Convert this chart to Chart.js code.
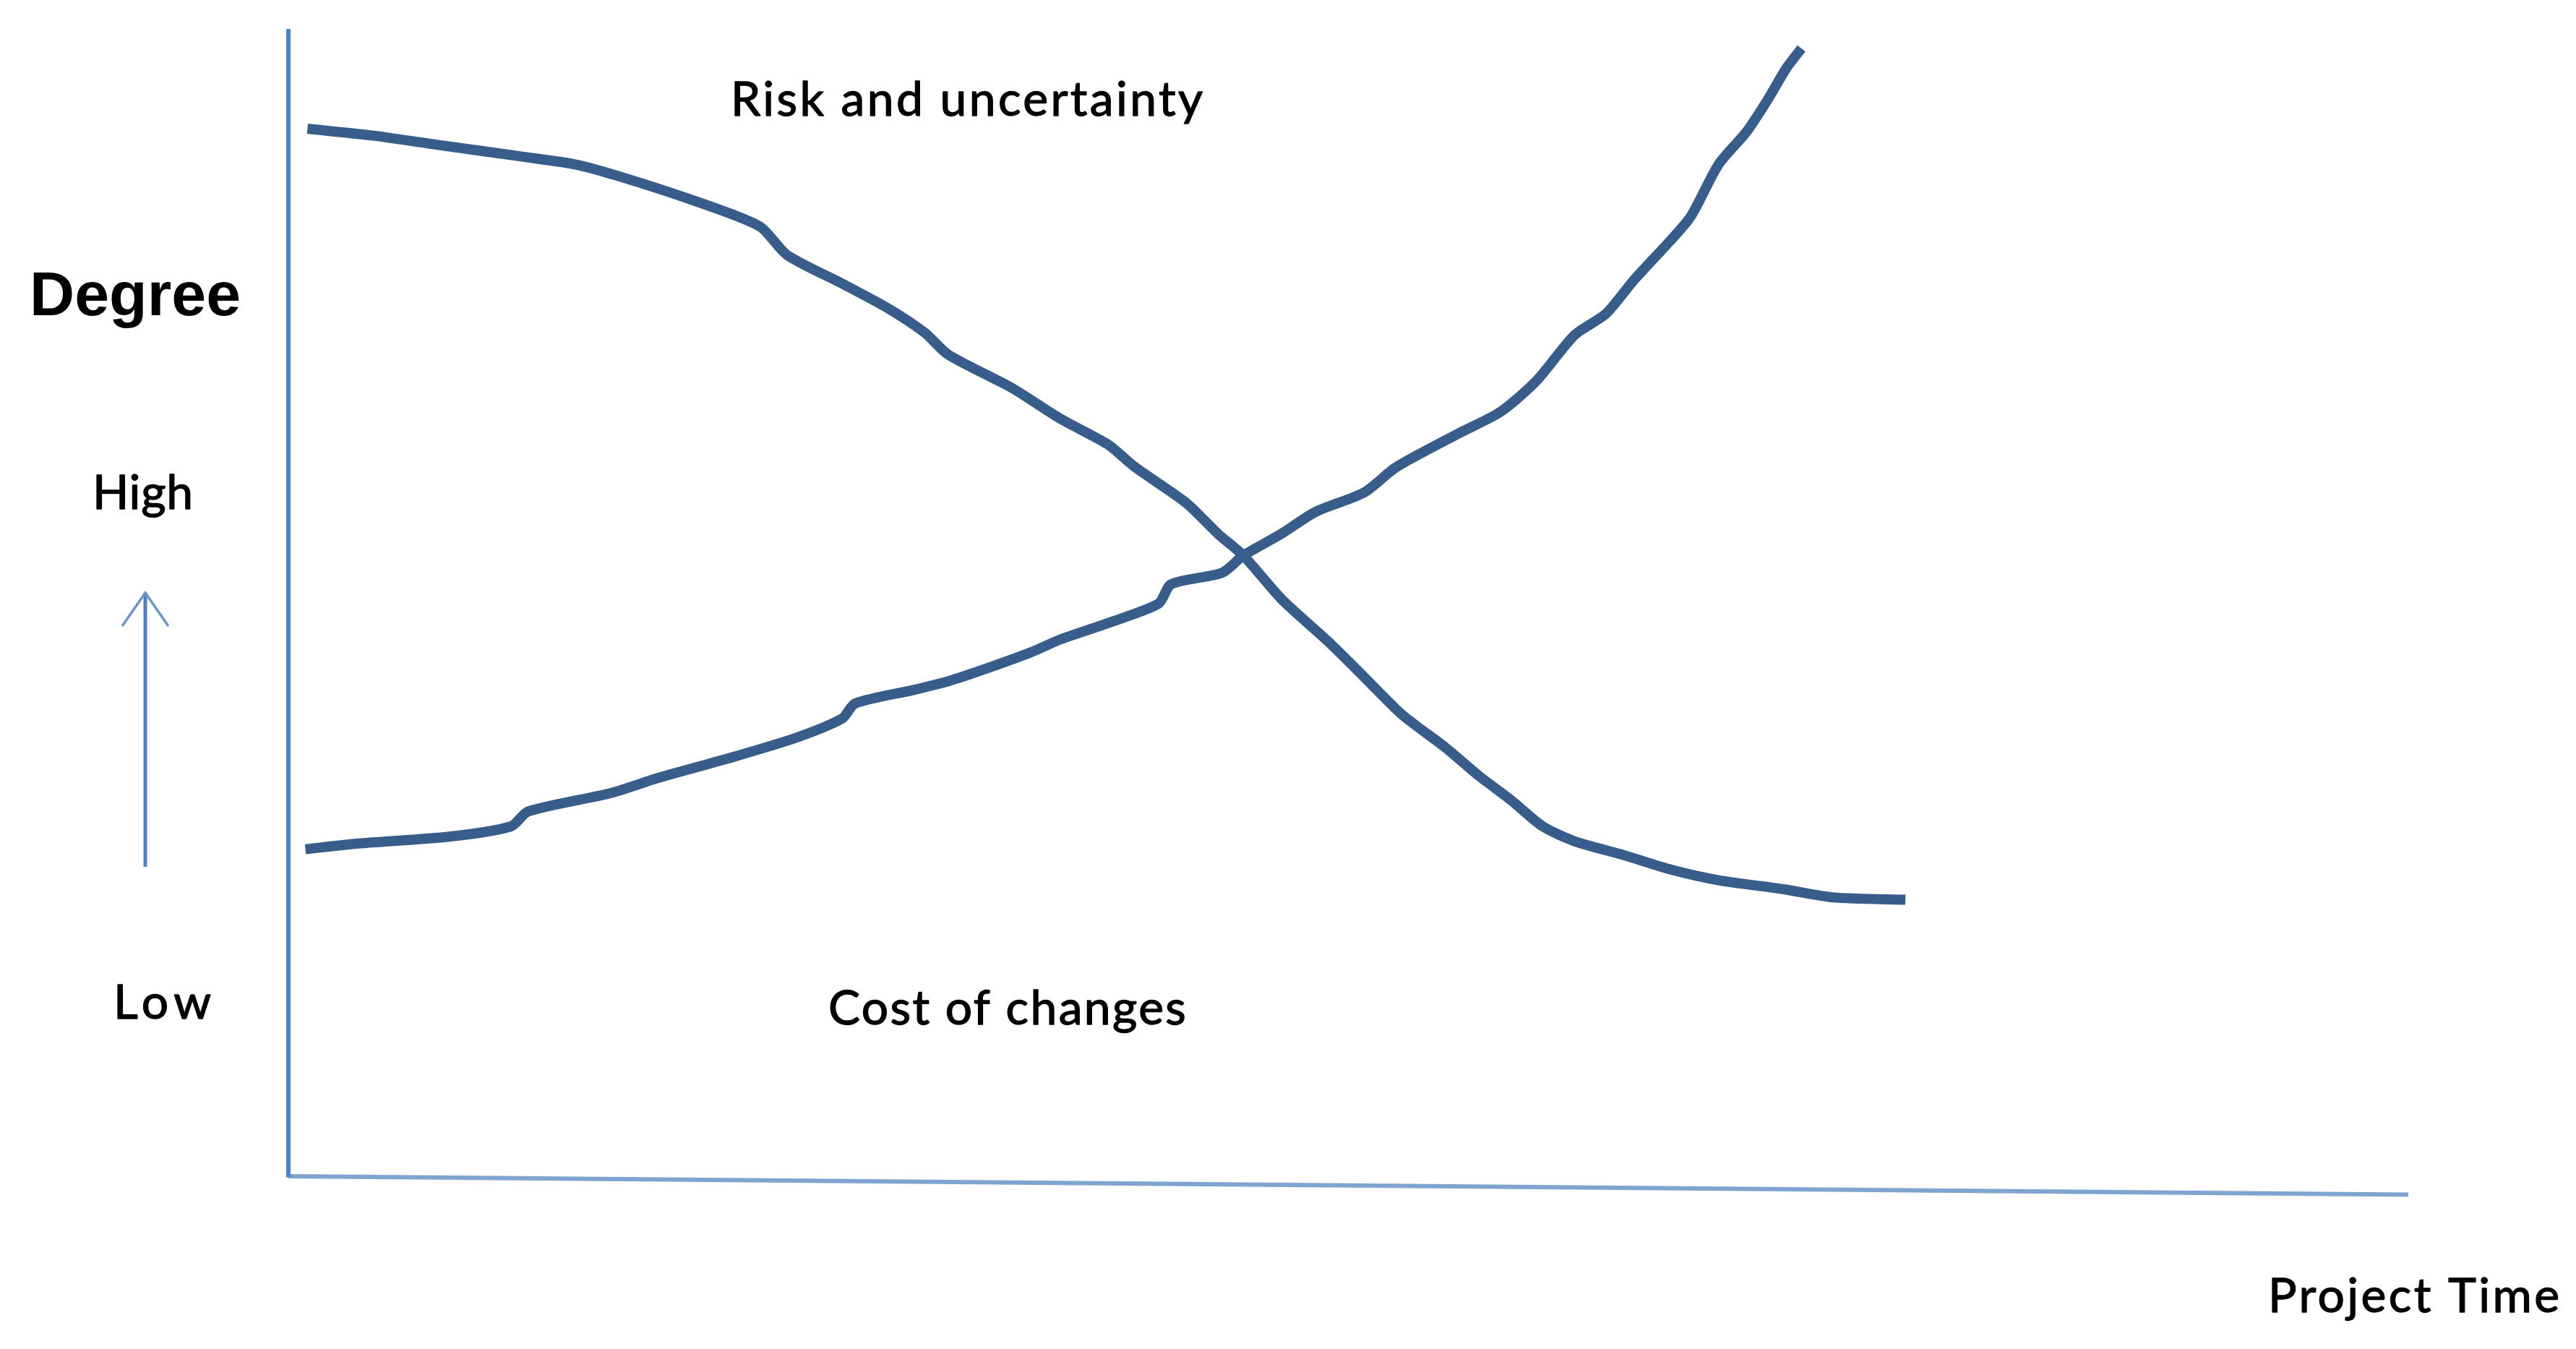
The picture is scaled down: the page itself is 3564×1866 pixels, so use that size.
<!DOCTYPE html>
<html>
<head>
<meta charset="utf-8">
<script src="https://cdn.jsdelivr.net/npm/chart.js@4.4.1/dist/chart.umd.min.js"></script>
<style>
  html, body { margin: 0; padding: 0; background: #ffffff; }
  canvas { display: block; }
</style>
</head>
<body>
<canvas id="c" width="3564" height="1866"></canvas>
<script>
// ---- Data (project time 0..100, degree 0..100) ----
const riskTime = [0.9, 4.0, 7.4, 10.9, 13.5, 15.5, 19.0, 22.2, 23.5, 26.1, 28.3, 30.0, 31.1, 34.1, 36.4, 38.6, 39.9, 42.3, 43.8, 45.0, 46.8, 49.0, 50.7, 52.5, 54.5, 56.1, 57.6, 59.1, 60.6, 62.9, 65.2, 67.4, 70.5, 72.8, 76.2];
const riskValues = [91.3, 90.7, 89.8, 88.9, 88.2, 87.2, 85.1, 82.8, 80.3, 77.8, 75.6, 73.5, 71.6, 68.7, 66.0, 63.8, 61.8, 58.7, 56.0, 54.1, 50.3, 46.6, 43.5, 40.2, 37.4, 34.9, 32.8, 30.5, 29.2, 28.0, 26.7, 25.8, 25.0, 24.3, 24.1];

const costTime = [0.8, 3.3, 7.6, 10.5, 11.3, 15.2, 17.4, 20.7, 23.9, 26.1, 26.7, 29.5, 31.2, 34.9, 36.4, 38.6, 41.0, 41.6, 44.0, 45.0, 46.8, 48.4, 50.7, 52.2, 55.1, 57.1, 58.8, 60.6, 62.1, 63.4, 65.2, 66.1, 67.4, 68.7, 69.7, 70.6, 71.3];
const costValues = [28.5, 29.0, 29.6, 30.5, 31.8, 33.4, 34.7, 36.4, 38.2, 39.9, 41.2, 42.4, 43.2, 45.6, 46.8, 48.2, 49.9, 51.6, 52.6, 54.1, 56.0, 57.9, 59.6, 61.8, 64.7, 66.6, 69.3, 73.3, 75.2, 78.1, 81.7, 83.7, 88.2, 91.0, 93.8, 96.6, 98.3];

// axis lines (the horizontal axis is drawn slightly sloping, as in the picture)
const yAxisTime = [0, 0];
const yAxisValues = [100, -0.1];
const xAxisTime = [0, 99.9];
const xAxisValues = [0, -1.6];

// text
const seriesLabels = ['Risk and uncertainty', 'Cost of changes'];
const axisTitle = 'Degree';
const levelLabels = ['High', 'Low'];
const timeLabel = 'Project Time';

const toPoints = (xs, ys) => xs.map((x, i) => ({ x: x, y: ys[i] }));

const curveColor = '#385d8a';
const axisColor = '#4f81bd';

// text placements (left x, baseline y, target width) in canvas pixels
const bodyFont = '66px Lato, "Open Sans", sans-serif';
const textPlacements = [
  { text: axisTitle,       x: 41,   y: 436,  w: 292, font: 'bold 86px "Liberation Sans", Arial, sans-serif', stroke: 0 },
  { text: levelLabels[0],  x: 128,  y: 704,  w: 139, font: bodyFont, stroke: 1.3 },
  { text: levelLabels[1],  x: 157,  y: 1409, w: 135, font: bodyFont, stroke: 1.3 },
  { text: seriesLabels[0], x: 1011, y: 160,  w: 653, font: bodyFont, stroke: 1.3 },
  { text: seriesLabels[1], x: 1146, y: 1417, w: 495, font: bodyFont, stroke: 1.3 },
  { text: timeLabel,       x: 3138, y: 1815, w: 403, font: bodyFont, stroke: 1.3 }
];

const decorPlugin = {
  id: 'decor',
  afterDatasetsDraw(chart) {
    const ctx = chart.ctx;
    ctx.save();
    // up arrow on the left (outside the plot area)
    const ax = 201, top = 820, bottom = 1199;
    ctx.strokeStyle = axisColor;
    ctx.lineWidth = 5;
    ctx.lineCap = 'butt';
    ctx.beginPath();
    ctx.moveTo(ax, bottom);
    ctx.lineTo(ax, top);
    ctx.stroke();
    ctx.strokeStyle = '#6d95c8';
    ctx.lineWidth = 3.5;
    ctx.lineJoin = 'miter';
    ctx.beginPath();
    ctx.moveTo(169, 866);
    ctx.lineTo(ax, top);
    ctx.lineTo(233, 866);
    ctx.stroke();

    // texts
    ctx.fillStyle = '#000000';
    ctx.strokeStyle = '#000000';
    ctx.textBaseline = 'alphabetic';
    ctx.textAlign = 'left';
    for (const t of textPlacements) {
      ctx.font = t.font;
      if ('letterSpacing' in ctx) {
        ctx.letterSpacing = '0px';
        const w = ctx.measureText(t.text).width;
        const sp = (t.w - w) / Math.max(1, t.text.length - 1);
        ctx.letterSpacing = sp.toFixed(2) + 'px';
      }
      ctx.fillText(t.text, t.x, t.y);
      if (t.stroke > 0) {
        ctx.lineWidth = t.stroke;
        ctx.lineJoin = 'round';
        ctx.strokeText(t.text, t.x, t.y);
      }
    }
    ctx.restore();
  }
};

new Chart(document.getElementById('c'), {
  type: 'scatter',
  data: {
    datasets: [
      {
        label: 'Y axis',
        data: toPoints(yAxisTime, yAxisValues),
        showLine: true, borderColor: axisColor, borderWidth: 6,
        pointRadius: 0, clip: false, borderCapStyle: 'butt'
      },
      {
        label: 'X axis',
        data: toPoints(xAxisTime, xAxisValues),
        showLine: true, borderColor: '#80a4d0', borderWidth: 6,
        pointRadius: 0, clip: false, borderCapStyle: 'butt'
      },
      {
        label: seriesLabels[0],
        data: toPoints(riskTime, riskValues),
        showLine: true, borderColor: curveColor, borderWidth: 14,
        pointRadius: 0, tension: 0.25, clip: false,
        borderCapStyle: 'butt', borderJoinStyle: 'round'
      },
      {
        label: seriesLabels[1],
        data: toPoints(costTime, costValues),
        showLine: true, borderColor: curveColor, borderWidth: 14,
        pointRadius: 0, tension: 0.25, clip: false,
        borderCapStyle: 'butt', borderJoinStyle: 'round'
      }
    ]
  },
  options: {
    responsive: false,
    devicePixelRatio: 1,
    animation: false,
    layout: { padding: { left: 399, right: 229, top: 40, bottom: 239 } },
    plugins: { legend: { display: false }, tooltip: { enabled: false }, title: { display: false } },
    scales: {
      x: { type: 'linear', min: 0, max: 100, display: false },
      y: { type: 'linear', min: 0, max: 100, display: false }
    }
  },
  plugins: [decorPlugin]
});
</script>
</body>
</html>
